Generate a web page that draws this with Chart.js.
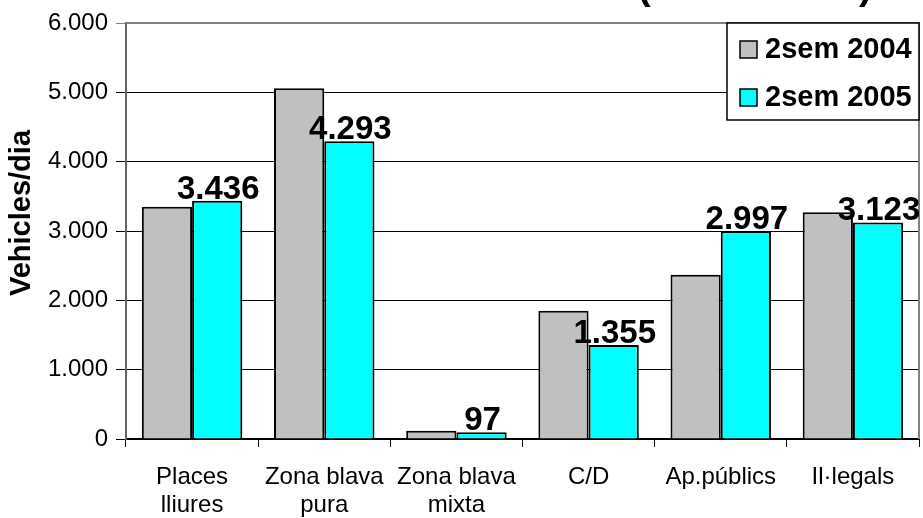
<!DOCTYPE html>
<html>
<head>
<meta charset="utf-8">
<script src="https://cdn.jsdelivr.net/npm/chart.js@4/dist/chart.umd.min.js"></script>
<style>
  html, body { margin: 0; padding: 0; background: #fff; }
  #c { display: block; }
</style>
</head>
<body>
<canvas id="c" width="923" height="518"></canvas>
<script>
const categories = [['Places', 'lliures'], ['Zona blava', 'pura'], ['Zona blava', 'mixta'], 'C/D', 'Ap.públics', 'Il·legals'];
const seriesNames = ['2sem 2004', '2sem 2005'];
const values2004 = [3350, 5060, 120, 1850, 2370, 3270];
const values2005 = [3436, 4293, 97, 1355, 2997, 3123];
const yTicks = [0, 1000, 2000, 3000, 4000, 5000, 6000];
const yTitle = 'Vehicles/dia';
const chartTitle = '(2004 - 2005)';

const FONT = "'Liberation Sans', Arial, sans-serif";
function fmt(v) {
  return String(Math.round(v)).replace(/\B(?=(\d{3})+(?!\d))/g, '.');
}

const titlePlugin = {
  id: 'cutTitle',
  afterDraw(chart) {
    const ctx = chart.ctx;
    ctx.save();
    ctx.font = 'bold 39px ' + FONT;
    ctx.fillStyle = '#000';
    ctx.textAlign = 'right';
    ctx.textBaseline = 'alphabetic';
    ctx.fillText(chartTitle, 872, -1);
    ctx.restore();
  }
};

const yTitlePlugin = {
  id: 'yTitle',
  afterDraw(chart) {
    const ctx = chart.ctx;
    ctx.save();
    ctx.translate(22, 213);
    ctx.rotate(-Math.PI / 2);
    ctx.font = 'bold 29px ' + FONT;
    ctx.fillStyle = '#000';
    ctx.textAlign = 'center';
    ctx.textBaseline = 'middle';
    ctx.fillText(yTitle, 0, 0);
    ctx.restore();
  }
};

const framePlugin = {
  id: 'frame',
  beforeDatasetsDraw(chart) {
    const a = chart.chartArea, ctx = chart.ctx;
    ctx.save();
    ctx.strokeStyle = '#808080';
    ctx.lineWidth = 2;
    ctx.beginPath();
    ctx.moveTo(a.left, a.top);
    ctx.lineTo(a.right, a.top);
    ctx.lineTo(a.right, a.bottom);
    ctx.stroke();
    ctx.restore();
  }
};

const labelPlugin = {
  id: 'valueLabels',
  afterDatasetsDraw(chart) {
    const ctx = chart.ctx;
    const meta = chart.getDatasetMeta(1);
    ctx.save();
    ctx.font = 'bold 33px ' + FONT;
    ctx.fillStyle = '#000';
    ctx.textAlign = 'center';
    ctx.textBaseline = 'alphabetic';
    meta.data.forEach((bar, i) => {
      ctx.fillText(fmt(chart.data.datasets[1].data[i]), bar.x + 1, bar.y - 2);
    });
    ctx.restore();
  }
};

const legendPlugin = {
  id: 'boxLegend',
  afterDraw(chart) {
    const a = chart.chartArea, ctx = chart.ctx;
    const w = 192, h = 97;
    const x0 = a.right - w, y0 = a.top;
    ctx.save();
    ctx.fillStyle = '#fff';
    ctx.fillRect(x0, y0, w, h);
    ctx.strokeStyle = '#000';
    ctx.lineWidth = 1.5;
    ctx.strokeRect(x0, y0, w, h);
    ctx.font = 'bold 29px ' + FONT;
    ctx.textAlign = 'left';
    ctx.textBaseline = 'middle';
    chart.data.datasets.forEach((ds, i) => {
      const cy = y0 + 26 + i * 48;
      ctx.fillStyle = ds.backgroundColor;
      ctx.fillRect(x0 + 13, cy - 8, 17, 17);
      ctx.strokeStyle = '#000';
      ctx.lineWidth = 1.5;
      ctx.strokeRect(x0 + 13, cy - 8, 17, 17);
      ctx.fillStyle = '#000';
      ctx.fillText(ds.label, x0 + 38, cy + 1);
    });
    ctx.restore();
  }
};

new Chart(document.getElementById('c'), {
  type: 'bar',
  data: {
    labels: categories,
    datasets: [
      { label: seriesNames[0], data: values2004, backgroundColor: '#C0C0C0', borderColor: '#000', borderWidth: 2 },
      { label: seriesNames[1], data: values2005, backgroundColor: '#00FFFF', borderColor: '#000', borderWidth: 2 }
    ]
  },
  options: {
    responsive: false,
    devicePixelRatio: 1,
    animation: false,
    layout: { padding: { top: 23, right: 4, left: 0, bottom: 0 } },
    datasets: { bar: { categoryPercentage: 0.76, barPercentage: 1.0 } },
    plugins: { legend: { display: false }, tooltip: { enabled: false }, title: { display: false } },
    scales: {
      x: {
        afterFit(s) { s.height = 79; },
        grid: { display: true, drawOnChartArea: false, offset: true, tickLength: 8, color: '#000', lineWidth: 1 },
        border: { display: true, color: '#000', width: 2 },
        ticks: { color: '#000', font: { family: FONT, size: 24, lineHeight: 1.17 }, padding: 16, maxRotation: 0, autoSkip: false }
      },
      y: {
        min: 0, max: 6000,
        afterFit(s) { s.width = 126; },
        afterBuildTicks(s) { s.ticks = yTicks.map(v => ({ value: v })); },
        grid: {
          color: ctx => (ctx.tick && ctx.tick.value === 6000) ? '#808080' : '#000',
          lineWidth: 1, tickLength: 10
        },
        border: { display: true, color: '#666', width: 2 },
        ticks: { color: '#000', font: { family: FONT, size: 24 }, padding: 8, callback: v => fmt(v) }
      }
    }
  },
  plugins: [framePlugin, labelPlugin, legendPlugin, titlePlugin, yTitlePlugin]
});
</script>
</body>
</html>
